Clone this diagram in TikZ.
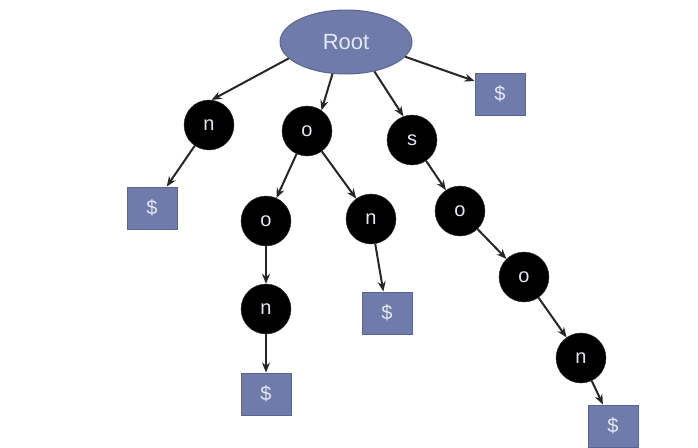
\documentclass[tikz,border=0pt]{standalone}
\usepackage{fontspec}
\setmainfont{Liberation Sans}
\usetikzlibrary{shapes.geometric,arrows.meta}
\definecolor{boxblue}{HTML}{6F7CAB}
\definecolor{boxedge}{HTML}{5A6690}
\definecolor{txt}{HTML}{E4E8F2}
\begin{document}
\begin{tikzpicture}[x=1pt,y=-1pt,
  letter/.style={circle,fill=black,draw=black!80,minimum size=50pt,inner sep=0pt,text=txt,font=\fontsize{20}{22}\selectfont},
  endbox/.style={rectangle,fill=boxblue,draw=boxedge,line width=1pt,minimum width=50pt,minimum height=42pt,inner sep=0pt,text=txt,font=\fontsize{20}{22}\selectfont},
  rootnode/.style={ellipse,fill=boxblue,draw=boxedge,line width=1pt,minimum width=132pt,minimum height=64pt,inner sep=0pt,text=txt,font=\fontsize{22}{24}\selectfont},
  link/.style={-{Stealth[length=10pt,width=8pt]},line width=2pt,black!85}]
\useasboundingbox (0,0) rectangle (698,447);
\node[rootnode] (root) at (346,42) {Root};
\node[endbox] (d0) at (500,94) {\$};
\node[letter] (n1) at (209,125) {n};
\node[letter] (o1) at (307,131) {o};
\node[letter] (s1) at (412,140) {s};
\node[endbox] (d1) at (152,208) {\$};
\node[letter] (o2) at (266,221) {o};
\node[letter] (n2) at (371,219) {n};
\node[letter] (n3) at (266,309) {n};
\node[endbox] (d2) at (387,313) {\$};
\node[endbox] (d3) at (266,394) {\$};
\node[letter] (o3) at (460,211) {o};
\node[letter] (o4) at (524,277) {o};
\node[letter] (n4) at (581,358) {n};
\node[endbox] (d4) at (613,426) {\$};
\draw[link] (root.196) -- (n1.84);
\draw[link] (root.247) -- (o1.55);
\draw[link] (root.314) -- (s1.110);
\draw[link] (root.346) -- (d0.153);
\draw[link] (n1) -- (d1);
\draw[link] (o1) -- (o2);
\draw[link] (o1) -- (n2);
\draw[link] (o2) -- (n3);
\draw[link] (n3) -- (d3);
\draw[link] (n2) -- (d2);
\draw[link] (s1) -- (o3);
\draw[link] (o3) -- (o4);
\draw[link] (o4) -- (n4);
\draw[link] (n4) -- (d4);
\end{tikzpicture}
\end{document}
